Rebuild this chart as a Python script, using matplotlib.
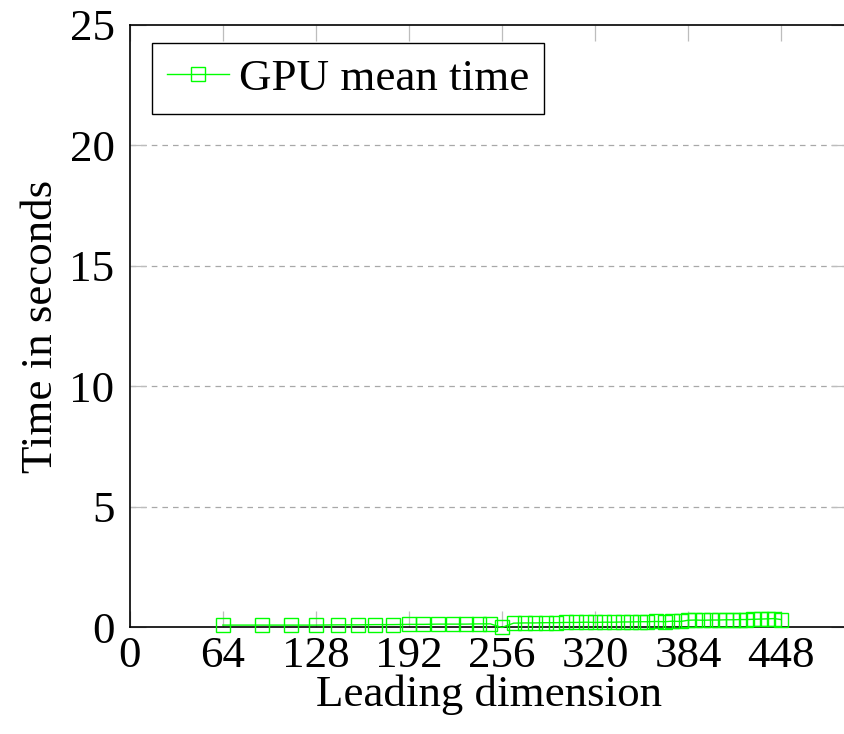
import matplotlib
matplotlib.use("Agg")
import matplotlib.pyplot as plt

# Leading dimension (x) vs GPU mean time in seconds (y)
dims = [64, 91, 111, 128, 143, 157, 169, 181, 192, 202, 212, 222, 231, 240, 248,
        256, 264, 272, 279, 286, 293, 300, 307, 314, 320, 326, 333, 339, 345, 351,
        356, 362, 368, 373, 379, 384, 389, 394, 400, 405, 410, 415, 420, 424, 429,
        434, 439, 443, 448]
gpu_time = [0.10, 0.10, 0.10, 0.10, 0.11, 0.11, 0.12, 0.12, 0.13, 0.13, 0.14, 0.14,
            0.14, 0.15, 0.15, 0.00, 0.18, 0.19, 0.19, 0.20, 0.20, 0.21, 0.21, 0.22,
            0.21, 0.22, 0.22, 0.23, 0.23, 0.24, 0.24, 0.25, 0.24, 0.26, 0.25, 0.30,
            0.31, 0.30, 0.31, 0.31, 0.32, 0.32, 0.33, 0.33, 0.34, 0.35, 0.36, 0.37,
            0.33]
xticks = [0, 64, 128, 192, 256, 320, 384, 448]
yticks = [0, 5, 10, 15, 20, 25]

plt.rcParams['font.family'] = ['Liberation Serif', 'DejaVu Serif']
fs = 32.4

fig = plt.figure(figsize=(8.44, 7.34), dpi=100)
# right spine sits just outside the picture, as in the cropped original
ax = fig.add_axes([0.1538, 0.1451, 0.8500, 0.8212])

ax.plot(dims, gpu_time, color=(0, 1, 0), lw=1.0, marker='s', markersize=10.5,
        markerfacecolor='none', markeredgecolor=(0, 1, 0), markeredgewidth=1.0,
        label='GPU mean time', clip_on=False, zorder=3)

ax.set_xlim(0, 493.5)
ax.set_ylim(0, 25)
ax.set_xticks(xticks)
ax.set_yticks(yticks)

for y in yticks[1:-1]:
    ax.axhline(y, color='#a8a8a8', lw=0.9, ls=(0, (4.5, 4)), zorder=1)

ax.tick_params(axis='both', direction='in', length=11.5, width=0.9,
               color='#bdbdbd', labelsize=fs, top=True, right=True)
ax.tick_params(axis='x', pad=6)
ax.tick_params(axis='y', pad=11)

for s in ax.spines.values():
    s.set_linewidth(1.2)
    s.set_color('black')

ax.set_xlabel('Leading dimension', fontsize=fs, labelpad=-1)
ax.set_ylabel('Time in seconds', fontsize=fs, labelpad=6)

leg = ax.legend(loc='upper left', bbox_to_anchor=(0.0314, 0.969), borderaxespad=0,
                fontsize=fs, fancybox=False, framealpha=1, edgecolor='black',
                handlelength=1.38, handletextpad=0.22, borderpad=0.33)
leg.get_frame().set_linewidth(1.0)

fig.savefig('out.png', dpi=100)
